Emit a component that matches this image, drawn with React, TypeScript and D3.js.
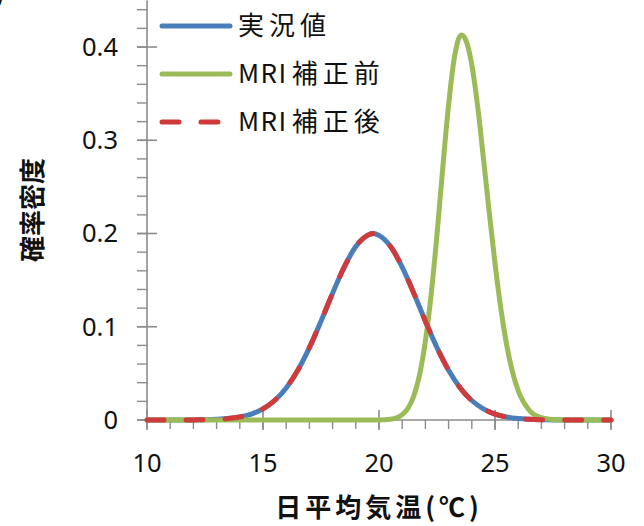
import React from "react";
import * as d3 from "d3";

const xBlue = [10, 11, 12, 12.5, 13, 13.5, 14, 14.5, 15, 15.5, 16, 16.5, 17, 17.5, 18, 18.5, 19, 19.5, 19.75, 20, 20.5, 21, 21.5, 22, 22.5, 23, 23.5, 24, 24.5, 25, 25.5, 26, 26.5, 27, 27.5, 28, 29, 30];
const obsValues = [0, 0, 0.0001, 0.0003, 0.0007, 0.0015, 0.0032, 0.0064, 0.0119, 0.0209, 0.0344, 0.0533, 0.0776, 0.106, 0.136, 0.164, 0.186, 0.198, 0.2, 0.198, 0.186, 0.164, 0.136, 0.106, 0.0776, 0.0533, 0.0344, 0.0209, 0.0119, 0.0064, 0.0032, 0.0015, 0.0007, 0.0003, 0.0001, 0, 0, 0];
const mriAfterValues = [0, 0, 0.0001, 0.0003, 0.0007, 0.0015, 0.0032, 0.0064, 0.0119, 0.0209, 0.0344, 0.0533, 0.0776, 0.106, 0.136, 0.164, 0.186, 0.198, 0.2, 0.198, 0.186, 0.164, 0.136, 0.106, 0.0776, 0.0533, 0.0344, 0.0209, 0.0119, 0.0064, 0.0032, 0.0015, 0.0007, 0.0003, 0.0001, 0, 0, 0];

const xGreen = [10, 12, 14, 16, 18, 19, 20, 20.5, 20.75, 21, 21.25, 21.5, 21.75, 22, 22.25, 22.5, 22.75, 23, 23.25, 23.55, 23.75, 24, 24.25, 24.5, 24.75, 25, 25.25, 25.5, 25.75, 26, 26.5, 27, 27.5, 28, 29, 30];
const mriBeforeValues = [0, 0, 0, 0, 0, 0, 0.0001, 0.0009, 0.0023, 0.0057, 0.0126, 0.0257, 0.0486, 0.0845, 0.135, 0.199, 0.271, 0.338, 0.389, 0.413, 0.407, 0.381, 0.337, 0.281, 0.223, 0.168, 0.12, 0.081, 0.0518, 0.0315, 0.0099, 0.0025, 0.0005, 0, 0, 0];

const xTicks = [10, 15, 20, 25, 30];
const yTicks = [0, 0.1, 0.2, 0.3, 0.4];
const legendLatin = ["", "MRI", "MRI"];
const legendCjk = ["実況値", "補正前", "補正後"];
const xTitle = "日平均気温(℃)";
const yTitle = "確率密度";

const W = 644;
const H = 526;
const BLUE = "#4A7EBB";
const GREEN = "#9BBB59";
const RED = "#CF3B3B";
const AXIS = "#8C8C8C";
const NUM_FONT = "'Noto Sans', 'Open Sans', sans-serif";
const JP_FONT = "'Noto Sans CJK JP', 'Noto Sans', sans-serif";

export default function App() {
  const x = d3.scaleLinear().domain([10, 30]).range([147, 611]);
  const y = d3.scaleLinear().domain([0, 0.45]).range([420, 0.4]);

  const line = d3
    .line<[number, number]>()
    .x((d) => x(d[0]))
    .y((d) => y(d[1]))
    .curve(d3.curveMonotoneX);

  const blueData: [number, number][] = xBlue.map((v, i) => [v, obsValues[i]]);
  const redData: [number, number][] = xBlue.map((v, i) => [v, mriAfterValues[i]]);
  const greenData: [number, number][] = xGreen.map((v, i) => [v, mriBeforeValues[i]]);

  const xMinor = d3.range(10, 30.001, 1);
  const yMinor = d3.range(0, 0.4501, 0.02);

  const legendColors = [BLUE, GREEN, RED];
  const legendDash = [undefined, undefined, "17 22"];
  const legendY = [26, 74, 122];

  return (
    <svg
      width={W}
      height={H}
      style={{ position: "absolute", left: 0, top: 0, background: "#fff" }}
    >
      <rect x={0} y={0} width={W} height={H} fill="#fff" />
      {/* clipped title remnant */}
      <text x={-4} y={3} fontFamily={JP_FONT} fontSize={26} fill="#111">)</text>

      {/* y axis */}
      <line x1={x(10)} x2={x(10)} y1={y(0.45)} y2={y(0)} stroke={AXIS} strokeWidth={1.6} />
      {yMinor.map((t, i) => (
        <line key={"ym" + i} x1={x(10) - 10} x2={x(10)} y1={y(t)} y2={y(t)} stroke={AXIS} strokeWidth={1.4} />
      ))}
      {yTicks.map((t) => (
        <g key={"yt" + t}>
          <line x1={x(10) - 10} x2={x(10) + 10} y1={y(t)} y2={y(t)} stroke={AXIS} strokeWidth={1.6} />
          <text
            x={118}
            y={y(t)}
            dy="0.35em"
            textAnchor="end"
            fontFamily={NUM_FONT}
            fontSize={25.5}
            fill="#111"
          >
            {String(t)}
          </text>
        </g>
      ))}

      {/* x axis */}
      <line x1={x(10)} x2={x(30)} y1={y(0)} y2={y(0)} stroke={AXIS} strokeWidth={1.6} />
      {xMinor.map((t, i) => (
        <line key={"xm" + i} x1={x(t)} x2={x(t)} y1={y(0)} y2={y(0) + 9} stroke={AXIS} strokeWidth={1.4} />
      ))}
      {xTicks.map((t) => (
        <g key={"xt" + t}>
          <line x1={x(t)} x2={x(t)} y1={y(0) - 10} y2={y(0) + 10} stroke={AXIS} strokeWidth={1.6} />
          <text
            x={x(t)}
            y={463}
            dy="0.35em"
            textAnchor="middle"
            fontFamily={NUM_FONT}
            fontSize={25.5}
            fill="#111"
          >
            {String(t)}
          </text>
        </g>
      ))}

      {/* curves */}
      <path d={line(blueData) || ""} fill="none" stroke={BLUE} strokeWidth={5} strokeLinejoin="round" strokeLinecap="round" />
      <path d={line(greenData) || ""} fill="none" stroke={GREEN} strokeWidth={5} strokeLinejoin="round" strokeLinecap="round" />
      <path
        d={line(redData) || ""}
        fill="none"
        stroke={RED}
        strokeWidth={5}
        strokeDasharray="17 22"
        strokeLinejoin="round"
        strokeLinecap="round"
      />

      {/* legend */}
      {legendCjk.map((c, i) => (
        <g key={"lg" + i}>
          <line
            x1={162}
            x2={230}
            y1={legendY[i]}
            y2={legendY[i]}
            stroke={legendColors[i]}
            strokeWidth={5}
            strokeLinecap="round"
            strokeDasharray={legendDash[i]}
          />
          <text
            x={238}
            y={legendY[i]}
            dy="0.36em"
            fontFamily={JP_FONT}
            fontSize={26}
            fill="#111"
          >
            {legendLatin[i] ? (
              <tspan letterSpacing={1.5}>{legendLatin[i]}</tspan>
            ) : null}
            <tspan dx={legendLatin[i] ? 4 : 0} letterSpacing={5}>{c}</tspan>
          </text>
        </g>
      ))}

      {/* axis titles */}
      <text
        x={379}
        y={508}
        dy="0.36em"
        textAnchor="middle"
        fontFamily={JP_FONT}
        fontSize={26}
        fontWeight="bold"
        letterSpacing={4}
        fill="#111"
      >
        {xTitle}
      </text>
      <text
        transform={`translate(33,210) rotate(-90)`}
        dy="0.36em"
        textAnchor="middle"
        fontFamily={JP_FONT}
        fontSize={26}
        fontWeight="bold"
        fill="#111"
      >
        {yTitle}
      </text>
    </svg>
  );
}
